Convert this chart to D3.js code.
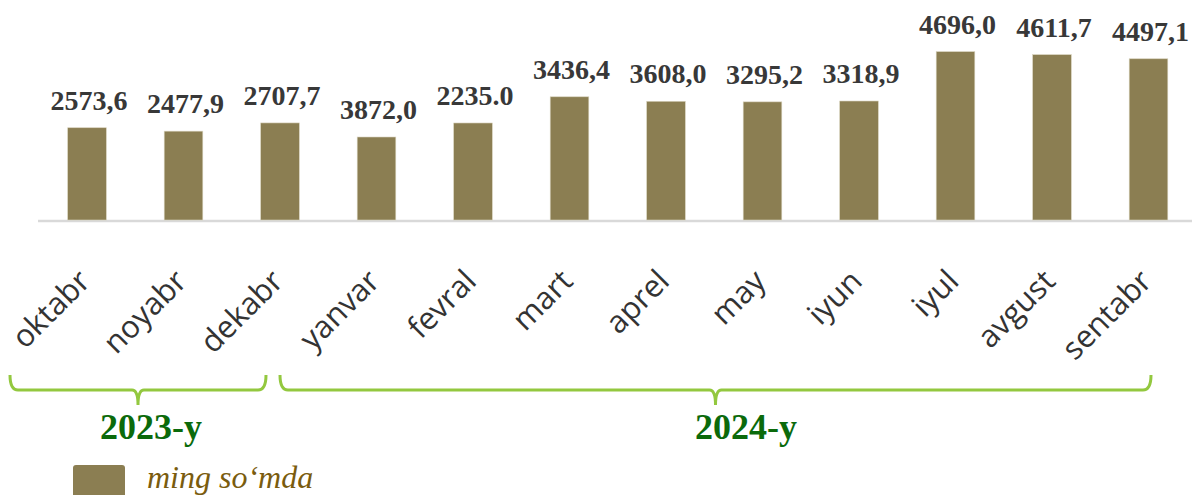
<!DOCTYPE html>
<html>
<head>
<meta charset="utf-8">
<script src="https://cdn.jsdelivr.net/npm/d3@7"></script>
<style>
  html, body { margin: 0; padding: 0; background: #fff; }
  svg { display: block; }
</style>
</head>
<body>
<div id="chart"></div>
<script>
// months shown on the x axis
const months = ["oktabr", "noyabr", "dekabr", "yanvar", "fevral", "mart",
  "aprel", "may", "iyun", "iyul", "avgust", "sentabr"];
// bar heights as drawn (ming so'mda)
const barValues = [2573.6, 2477.9, 2707.7, 2315.0, 2706.0, 3436.4,
  3311.0, 3295.2, 3318.9, 4696.0, 4611.7, 4497.1];
// data labels as printed above the bars
const valueLabels = ["2573,6", "2477,9", "2707,7", "3872,0", "2235.0", "3436,4",
  "3608,0", "3295,2", "3318,9", "4696,0", "4611,7", "4497,1"];
// year groups
const yearLabels = ["2023-y", "2024-y"];
const legendLabel = "ming so\u2018mda";

(function () {
  const width = 1192;
  const height = 495;
  const baseline = 220;

  const svg = d3.select("#chart")
    .append("svg")
    .attr("width", width)
    .attr("height", height);

  const x = d3.scaleBand()
    .domain(months)
    .range([38.75, 1196.75])
    .paddingInner(0.6)
    .paddingOuter(0.3);

  const y = d3.scaleLinear()
    .domain([0, 5000])
    .range([baseline, baseline - 5000 * 0.03585]);

  const data = months.map((m, i) => ({month: m, value: barValues[i], label: valueLabels[i]}));

  // baseline
  svg.append("line")
    .attr("x1", 38).attr("x2", width)
    .attr("y1", baseline + 1).attr("y2", baseline + 1)
    .style("stroke", "#d9d9d9")
    .style("stroke-width", 2.5);

  // bars
  svg.selectAll(".bar")
    .data(data)
    .enter().append("rect")
    .attr("class", "bar")
    .attr("x", d => x(d.month))
    .attr("y", d => y(d.value))
    .attr("width", x.bandwidth())
    .attr("height", d => y(0) - y(d.value))
    .style("fill", "#8b7e52")
    .style("stroke", "#d8d2bd")
    .style("stroke-width", 0.6);

  // value labels
  svg.selectAll(".val")
    .data(data)
    .enter().append("text")
    .attr("class", "val")
    .attr("x", d => x(d.month) + x.bandwidth() / 2 + 2)
    .attr("y", d => y(d.value) - 18)
    .attr("text-anchor", "middle")
    .style("font", "bold 28px 'Liberation Serif', 'Times New Roman', serif")
    .style("fill", "#383838")
    .text(d => d.label);

  // rotated month labels
  svg.selectAll(".month")
    .data(months)
    .enter().append("text")
    .attr("class", "month")
    .attr("transform", d => "translate(" + (x(d) + x.bandwidth() / 2 + 5) + ",283) rotate(-45)")
    .attr("text-anchor", "end")
    .style("font", "31px 'Open Sans', sans-serif")
    .style("fill", "#333")
    .text(d => d);

  // year braces
  const braces = [
    {label: yearLabels[0], left: 10, right: 266, textX: 151},
    {label: yearLabels[1], left: 280, right: 1151, textX: 746}
  ];
  const top = 375, line = 390, tip = 405;
  braces.forEach(b => {
    const mid = (b.left + b.right) / 2;
    const p = d3.path();
    p.moveTo(b.left, top);
    p.quadraticCurveTo(b.left, line, b.left + 8, line);
    p.lineTo(mid - 6, line);
    p.quadraticCurveTo(mid, line, mid, tip);
    p.quadraticCurveTo(mid, line, mid + 6, line);
    p.lineTo(b.right - 8, line);
    p.quadraticCurveTo(b.right, line, b.right, top);
    svg.append("path")
      .attr("d", p.toString())
      .style("fill", "none")
      .style("stroke", "#93c83f")
      .style("stroke-width", 3);
    svg.append("text")
      .attr("x", b.textX)
      .attr("y", 439)
      .attr("text-anchor", "middle")
      .style("font", "bold 36px 'Liberation Serif', 'Times New Roman', serif")
      .style("fill", "#0b6a0b")
      .text(b.label);
  });

  // legend
  svg.append("rect")
    .attr("x", 73).attr("y", 465)
    .attr("width", 52).attr("height", 40)
    .attr("rx", 3)
    .style("fill", "#8b7e52");
  svg.append("text")
    .attr("x", 147).attr("y", 488)
    .style("font", "italic 32px 'Liberation Serif', 'Times New Roman', serif")
    .style("fill", "#7a5c0e")
    .text(legendLabel);
})();
</script>
</body>
</html>
